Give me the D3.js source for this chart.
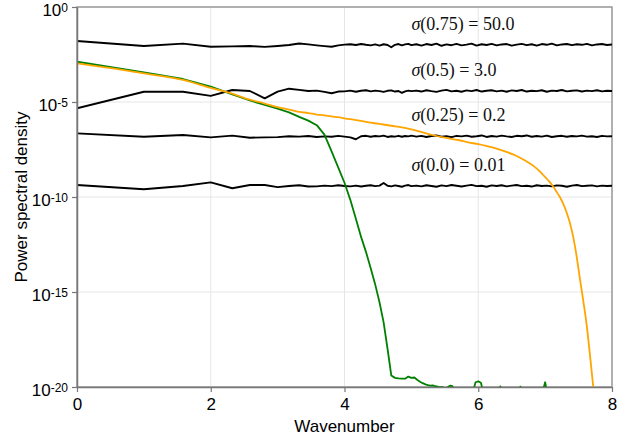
<!DOCTYPE html>
<html>
<head>
<meta charset="utf-8">
<script src="https://cdn.jsdelivr.net/npm/d3@7"></script>
<style>
body { margin: 0; background: #fff; }
svg { display: block; }
</style>
</head>
<body>
<svg id="svg1"></svg>
<script>
// wavenumbers shared by the four noise spectra (black lines)
const kBlack = [0, 1, 1.585, 2, 2.322, 2.585, 2.807, 3, 3.17, 3.322, 3.459, 3.585, 3.7, 3.807, 3.907, 4,
    4.087, 4.17, 4.248, 4.322, 4.392, 4.459, 4.524, 4.585, 4.644, 4.7, 4.755, 4.807, 4.858, 4.907, 4.954, 5,
    5.075, 5.15, 5.225, 5.3, 5.375, 5.45, 5.525, 5.6, 5.675, 5.75, 5.825, 5.9, 5.975, 6.05, 6.125, 6.2,
    6.275, 6.35, 6.425, 6.5, 6.575, 6.65, 6.725, 6.8, 6.875, 6.95, 7.025, 7.1, 7.175, 7.25, 7.325, 7.4,
    7.475, 7.55, 7.625, 7.7, 7.775, 7.85, 7.925, 8];

// log10 of the power spectral density, one array per sigma
const psdSigma075 = [-1.79, -2.05, -1.93, -2.09, -2.07, -2.05, -2.1, -2.05, -2.0, -1.92, -1.97, -2.02, -2.06, -2.09, -2.02, -1.98,
    -1.96, -2.0, -1.95, -1.99, -2.02, -1.97, -2.03, -1.96, -2.0, -2.12, -1.99, -1.95, -2.02, -1.97, -1.94, -2.01,
    -1.96, -2.03, -1.95, -2.0, -1.93, -2.04, -1.97, -2.01, -1.94, -2.02, -1.98, -1.93, -2.03, -1.96, -2.0, -1.94,
    -2.02, -1.97, -1.95, -2.03, -1.98, -1.94, -2.01, -1.96, -2.03, -1.95, -1.99, -1.93, -2.02, -1.97, -1.95, -2.01,
    -1.96, -1.99, -1.94, -2.02, -1.97, -1.95, -2.0, -1.97];
const psdSigma05 = [-5.33, -4.46, -4.46, -4.68, -4.37, -4.42, -4.81, -4.45, -4.3, -4.36, -4.42, -4.4, -4.47, -4.54, -4.45, -4.44,
    -4.4, -4.46, -4.41, -4.38, -4.44, -4.4, -4.43, -4.47, -4.41, -4.39, -4.45, -4.42, -4.52, -4.44, -4.4, -4.43,
    -4.4, -4.45, -4.38, -4.43, -4.47, -4.4, -4.36, -4.44, -4.41, -4.46, -4.39, -4.43, -4.37, -4.45, -4.41, -4.38,
    -4.44, -4.4, -4.46, -4.39, -4.42, -4.37, -4.45, -4.41, -4.43, -4.38, -4.46, -4.4, -4.42, -4.37, -4.44, -4.41,
    -4.39, -4.45, -4.4, -4.43, -4.38, -4.44, -4.41, -4.42];
const psdSigma025 = [-6.65, -6.83, -6.74, -6.86, -6.77, -6.88, -6.86, -6.85, -6.8, -6.82, -6.79, -6.84, -6.81, -6.83, -6.78, -6.82,
    -6.86, -6.96, -6.8, -6.78, -6.83, -6.79, -6.81, -6.77, -6.84, -6.8, -6.82, -6.78, -6.83, -6.79, -6.81, -6.77,
    -6.82, -6.78, -6.84, -6.79, -6.76, -6.83, -6.8, -6.85, -6.78, -6.81, -6.77, -6.83, -6.8, -6.76, -6.84, -6.79,
    -6.82, -6.77, -6.81, -6.84, -6.78, -6.8, -6.76, -6.83, -6.79, -6.82, -6.77, -6.84, -6.8, -6.78, -6.83, -6.79,
    -6.81, -6.77, -6.82, -6.8, -6.84, -6.78, -6.81, -6.8];
const psdSigma000 = [-9.37, -9.59, -9.42, -9.23, -9.54, -9.37, -9.37, -9.48, -9.42, -9.38, -9.45, -9.44, -9.4, -9.43, -9.38, -9.42,
    -9.44, -9.4, -9.45, -9.41, -9.38, -9.43, -9.4, -9.26, -9.41, -9.44, -9.39, -9.42, -9.46, -9.4, -9.37, -9.43,
    -9.4, -9.44, -9.38, -9.42, -9.46, -9.39, -9.43, -9.37, -9.41, -9.45, -9.4, -9.36, -9.43, -9.41, -9.46, -9.39,
    -9.42, -9.38, -9.44, -9.4, -9.37, -9.43, -9.41, -9.45, -9.38, -9.42, -9.4, -9.44, -9.39, -9.41, -9.46, -9.4,
    -9.37, -9.43, -9.41, -9.39, -9.44, -9.4, -9.42, -9.41];

// green spectrum: [wavenumber, log10 psd]
const psdGreen = [[0, -2.88], [1, -3.44], [1.585, -3.79], [2, -4.19], [2.322, -4.6], [2.585, -4.92], [2.807, -5.15],
    [3, -5.35], [3.17, -5.55], [3.322, -5.78], [3.459, -5.98], [3.585, -6.22], [3.7, -6.72], [3.807, -7.6],
    [3.907, -8.45], [4, -9.25], [4.087, -10.15], [4.17, -11.15], [4.248, -12.1], [4.322, -12.9], [4.392, -13.75],
    [4.459, -14.6], [4.524, -15.55], [4.585, -16.6], [4.644, -18.0], [4.7, -19.4], [4.755, -19.52], [4.807, -19.55],
    [4.858, -19.56], [4.907, -19.56], [4.954, -19.45], [5.0, -19.52], [5.044, -19.5], [5.087, -19.62], [5.129, -19.72],
    [5.17, -19.8], [5.21, -19.86], [5.248, -19.9], [5.285, -19.93], [5.322, -19.92], [5.358, -19.96], [5.392, -19.98],
    [5.426, -20.02], [5.459, -20.0], [5.492, -20.05], [5.524, -20.06], [5.555, -19.98], [5.585, -19.93], [5.615, -19.96],
    [5.644, -20.2], [5.7, -20.6], [5.8, -20.8], [5.9, -20.5], [5.96, -19.75], [6.0, -19.7], [6.04, -19.78],
    [6.1, -20.6], [6.2, -20.8], [6.3, -20.2], [6.33, -19.97], [6.36, -20.3], [6.5, -20.8], [6.6, -20.2],
    [6.63, -19.98], [6.66, -20.3], [6.8, -20.8], [6.96, -20.3], [7.0, -19.75], [7.03, -20.3], [7.1, -20.8],
    [7.3, -20.8], [7.5, -20.6], [7.7, -20.8], [8.0, -20.8]];

// orange spectrum: [wavenumber, log10 psd]
const psdOrange = [[0, -2.97], [1, -3.49], [1.585, -3.84], [2, -4.26], [2.322, -4.56], [2.585, -4.88], [2.807, -5.08],
    [3, -5.27], [3.17, -5.4], [3.322, -5.52], [3.459, -5.58], [3.585, -5.66], [3.7, -5.7], [3.807, -5.76],
    [3.907, -5.8], [4, -5.86], [4.17, -5.95], [4.322, -6.05], [4.5, -6.14], [4.7, -6.25], [4.858, -6.33],
    [5, -6.44], [5.17, -6.6], [5.33, -6.75], [5.5, -6.88], [5.7, -7.0], [5.85, -7.12], [6, -7.22], [6.2, -7.38],
    [6.4, -7.6], [6.55, -7.8], [6.7, -8.08], [6.82, -8.35], [6.92, -8.65], [7.0, -8.95], [7.07, -9.22],
    [7.12, -9.45], [7.17, -9.72], [7.22, -10.0], [7.27, -10.35], [7.32, -10.8], [7.37, -11.35], [7.42, -12.1],
    [7.47, -13.1], [7.52, -14.3], [7.57, -15.45], [7.62, -16.7], [7.67, -18.3], [7.72, -20.0], [7.75, -21]];

// annotations
const labelArgs = ['0.75', '0.5', '0.25', '0.0'];
const labelValues = ['50.0', '3.0', '0.2', '0.01'];
const labelHeights = [-1.2, -3.62, -5.98, -8.62];   // log10 of baseline
const labelK = 5.0;

// ticks
const xTicks = [0, 2, 4, 6, 8];
const yTickExps = [0, -5, -10, -15, -20];

// layout
const margin = {top: 7, right: 12, bottom: 53, left: 77};
const width = 624 - margin.left - margin.right;
const height = 440 - margin.top - margin.bottom;

const svg = d3.select('#svg1')
    .attr('width', width + margin.left + margin.right)
    .attr('height', height + margin.top + margin.bottom)
    .append('g')
    .attr('transform', 'translate(' + margin.left + ',' + margin.top + ')');

const x = d3.scaleLinear().domain([0, 8]).range([0, width]);
const y = d3.scaleLog().domain([1e-20, 1]).range([height, 0]);

// grid
svg.append('g').selectAll('line')
    .data(xTicks)
    .enter()
    .append('line')
    .attr('x1', d => x(d)).attr('x2', d => x(d))
    .attr('y1', 0).attr('y2', height)
    .attr('stroke', '#e6e6e6');
svg.append('g').selectAll('line')
    .data(yTickExps)
    .enter()
    .append('line')
    .attr('x1', 0).attr('x2', width)
    .attr('y1', d => y(Math.pow(10, d))).attr('y2', d => y(Math.pow(10, d)))
    .attr('stroke', '#e6e6e6');

// frame (top / right)
svg.append('rect')
    .attr('width', width)
    .attr('height', height)
    .attr('fill', 'none')
    .attr('stroke', '#9a9a9a')
    .attr('stroke-width', 1.5);

svg.append('clipPath').attr('id', 'plot-clip')
    .append('rect').attr('width', width).attr('height', height);

const line = d3.line()
    .x(d => x(d[0]))
    .y(d => y(Math.pow(10, d[1])));

const plot = svg.append('g').attr('clip-path', 'url(#plot-clip)');

[psdSigma000, psdSigma025, psdSigma05, psdSigma075].forEach(function(vals) {
    plot.append('path')
        .datum(kBlack.map((k, i) => [k, vals[i]]))
        .attr('d', line)
        .attr('fill', 'none')
        .attr('stroke', '#000')
        .attr('stroke-width', 1.9)
        .attr('stroke-linejoin', 'round');
});

plot.append('path')
    .datum(psdGreen)
    .attr('d', line)
    .attr('fill', 'none')
    .attr('stroke', 'green')
    .attr('stroke-width', 1.8)
    .attr('stroke-linejoin', 'round');

plot.append('path')
    .datum(psdOrange)
    .attr('d', d3.line().curve(d3.curveMonotoneX).x(d => x(d[0])).y(d => y(Math.pow(10, d[1]))))
    .attr('fill', 'none')
    .attr('stroke', 'orange')
    .attr('stroke-width', 1.8)
    .attr('stroke-linejoin', 'round');

// sigma labels
labelArgs.forEach(function(arg, i) {
    const t = svg.append('text')
        .attr('x', x(labelK))
        .attr('y', y(Math.pow(10, labelHeights[i])))
        .attr('font-family', 'Liberation Serif, serif')
        .attr('font-size', '18px')
        .attr('fill', '#111');
    t.append('tspan').attr('font-style', 'italic').text('σ');
    t.append('tspan').text('(' + arg + ') = ' + labelValues[i]);
});

// X axis
const xAxis = svg.append('g')
    .attr('transform', 'translate(0,' + height + ')')
    .call(d3.axisBottom(x).tickValues(xTicks).tickSize(5).tickSizeOuter(0).tickPadding(6));
xAxis.selectAll('text')
    .attr('font-family', 'Liberation Sans, Arial, sans-serif')
    .attr('font-size', '17px')
    .attr('fill', '#000');

// Y axis
const yAxis = svg.append('g')
    .call(d3.axisLeft(y)
        .tickValues(yTickExps.map(e => Math.pow(10, e)))
        .tickFormat(() => '10')
        .tickSize(5).tickSizeOuter(0).tickPadding(4));
yAxis.selectAll('text')
    .attr('font-family', 'Liberation Sans, Arial, sans-serif')
    .attr('font-size', '17px')
    .attr('fill', '#000')
    .attr('dy', '0.5em')
    .each(function(d) {
        d3.select(this).append('tspan')
            .attr('dy', '-4.5px')
            .attr('font-size', '12px')
            .text(Math.round(Math.log10(d)));
    });

[xAxis, yAxis].forEach(function(a) {
    a.select('.domain').attr('stroke', '#777').attr('stroke-width', 1.5);
    a.selectAll('.tick line').attr('stroke', '#777').attr('stroke-width', 1.2);
});

// axis titles
svg.append('text')
    .attr('x', width / 2)
    .attr('y', height + 45)
    .attr('text-anchor', 'middle')
    .attr('font-family', 'Liberation Sans, Arial, sans-serif')
    .attr('font-size', '17px')
    .text('Wavenumber');

svg.append('text')
    .attr('transform', 'translate(' + (26.5 - margin.left) + ',' + (height / 2) + ')rotate(-90)')
    .attr('text-anchor', 'middle')
    .attr('font-family', 'Liberation Sans, Arial, sans-serif')
    .attr('font-size', '17px')
    .text('Power spectral density');
</script>
</body>
</html>
